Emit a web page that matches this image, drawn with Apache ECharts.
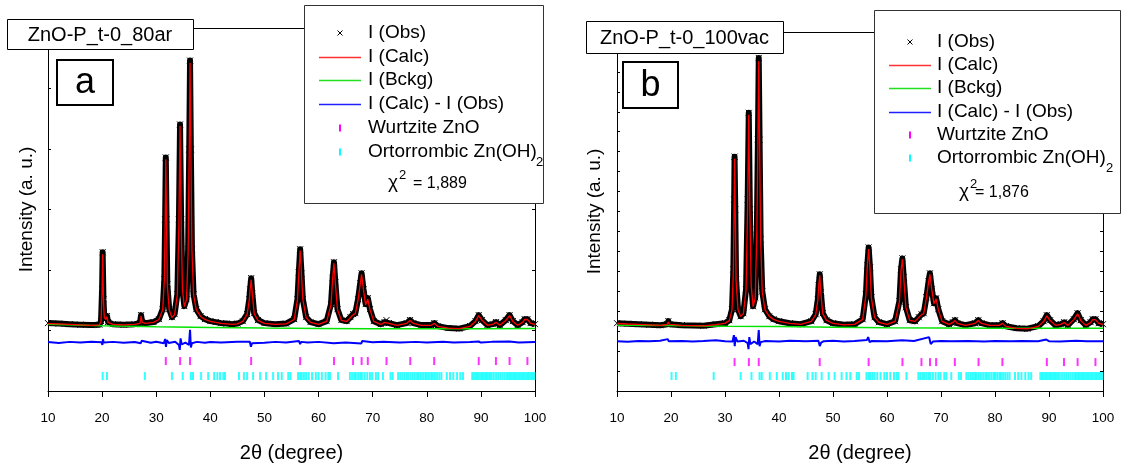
<!DOCTYPE html>
<html>
<head>
<meta charset="utf-8">
<script src="https://cdn.jsdelivr.net/npm/echarts@6/dist/echarts.min.js"></script>
<style>
  html, body { margin: 0; padding: 0; background: #fff; }
  #chart { width: 1128px; height: 468px; }
</style>
</head>
<body>
<div id="chart"></div>
<script>
// ---------- Rietveld refinement data: sample ZnO-P_t-0_80ar (panel a) ----------
const titleA = 'ZnO-P_t-0_80ar';
const chiA = '= 1,889';
const obsA = [[10,1122],[12,1114],[14,1105],[16,1097],[18,1089],[19.5,1097],[19.8,1155],[20.0,1683],[20.1,2294],[20.25,1518],[20.4,1221],[20.7,1188],[20.9,1238],[21.1,1139],[22,1105],[24,1097],[26,1105],[27.0,1122],[27.2,1254],[27.4,1139],[28,1122],[29.5,1139],[30.5,1188],[31.2,1353],[31.5,1848],[31.65,2838],[31.77,3861],[31.9,2838],[32.05,1766],[32.4,1353],[32.9,1221],[33.4,1271],[33.9,1600],[34.2,2838],[34.4,4406],[34.6,2838],[34.85,1683],[35.2,1403],[35.6,1518],[35.9,2343],[36.1,3993],[36.25,5462],[36.4,3993],[36.6,2343],[36.9,1600],[37.4,1353],[38.2,1238],[39,1188],[40,1155],[41,1139],[42,1122],[43,1114],[44,1105],[45,1114],[46,1155],[46.8,1271],[47.2,1518],[47.35,1680],[47.55,1865],[47.75,1620],[48.1,1287],[48.8,1172],[50,1122],[52,1105],[54,1114],[55.5,1188],[56.1,1518],[56.35,1960],[56.6,2343],[56.85,1940],[57.1,1518],[57.7,1221],[58.5,1139],[60,1105],[61.5,1155],[62.3,1436],[62.6,1870],[62.85,2129],[63.1,1800],[63.5,1353],[64.2,1172],[65.2,1155],[65.9,1221],[66.4,1271],[66.8,1287],[67.3,1518],[67.7,1780],[67.95,1947],[68.3,1683],[68.7,1436],[69.1,1535],[69.5,1353],[70.2,1155],[71.5,1105],[72.2,1139],[72.55,1172],[73,1122],[74.5,1089],[76.3,1122],[76.9,1172],[77.5,1122],[79,1089],[80.8,1089],[81.4,1122],[82,1073],[84,1040],[86,1031],[88,1073],[89,1155],[89.6,1254],[90.2,1172],[91.2,1089],[92.2,1105],[92.8,1139],[93.5,1089],[94.6,1172],[95.3,1254],[95.9,1155],[96.8,1089],[97.7,1139],[98.1,1188],[98.6,1188],[99.2,1122],[100,1105]];
const calcA = [[10,1115],[12,1108],[14,1100],[16,1092],[18,1086],[19.5,1094],[19.8,1150],[20.0,1660],[20.1,2260],[20.25,1500],[20.4,1215],[20.7,1180],[20.9,1230],[21.1,1135],[22,1100],[24,1094],[26,1100],[27.0,1118],[27.2,1240],[27.4,1135],[28,1118],[29.5,1135],[30.5,1182],[31.2,1345],[31.5,1830],[31.65,2810],[31.77,3830],[31.9,2820],[32.05,1750],[32.4,1345],[32.9,1215],[33.4,1265],[33.9,1590],[34.2,2810],[34.4,4380],[34.6,2820],[34.85,1670],[35.2,1395],[35.6,1510],[35.9,2320],[36.1,3960],[36.25,5420],[36.4,3970],[36.6,2330],[36.9,1590],[37.4,1345],[38.2,1232],[39,1183],[40,1150],[41,1135],[42,1118],[43,1110],[44,1102],[45,1110],[46,1150],[46.8,1265],[47.2,1505],[47.35,1670],[47.55,1840],[47.75,1610],[48.1,1280],[48.8,1168],[50,1118],[52,1102],[54,1110],[55.5,1182],[56.1,1505],[56.35,1940],[56.6,2320],[56.85,1925],[57.1,1505],[57.7,1215],[58.5,1135],[60,1100],[61.5,1150],[62.3,1425],[62.6,1850],[62.85,2110],[63.1,1785],[63.5,1345],[64.2,1168],[65.2,1150],[65.9,1215],[66.4,1262],[66.8,1280],[67.3,1505],[67.7,1765],[67.95,1930],[68.3,1670],[68.7,1425],[69.1,1520],[69.5,1345],[70.2,1150],[71.5,1100],[72.2,1135],[72.55,1165],[73,1118],[74.5,1086],[76.3,1118],[76.9,1165],[77.5,1118],[79,1086],[80.8,1086],[81.4,1118],[82,1070],[84,1038],[86,1030],[88,1070],[89,1150],[89.6,1245],[90.2,1168],[91.2,1086],[92.2,1100],[92.8,1135],[93.5,1086],[94.6,1165],[95.3,1245],[95.9,1150],[96.8,1086],[97.7,1135],[98.1,1182],[98.6,1182],[99.2,1118],[100,1100]];
const bkgA = [[10,1105],[20,1080],[30,1060],[40,1050],[50,1040],[60,1035],[70,1030],[80,1028],[90,1030],[100,1035]];
const diffA = [[10,808],[12,795],[14,812],[16,800],[18,815],[19.9,805],[20.05,760],[20.15,860],[20.3,800],[22,812],[24,798],[26,810],[27.15,790],[27.3,830],[27.5,806],[29,798],[30,815],[31.4,790],[31.65,860],[31.8,730],[31.95,840],[32.3,795],[33.5,815],[34.2,760],[34.35,680],[34.5,870],[34.7,770],[35.4,800],[36.05,760],[36.25,1010],[36.4,720],[36.6,790],[37.5,812],[39,798],[40,810],[42,800],[45,814],[47.3,815],[47.5,730],[47.7,790],[48,808],[50,796],[52,812],[54,800],[56.4,825],[56.6,775],[56.8,812],[58,800],[60,812],[62.8,790],[62.95,822],[65,802],[67.9,785],[68.05,825],[70,806],[72,814],[75,800],[78,812],[80,802],[83,814],[85,800],[88,810],[89.6,818],[90,800],[92,812],[95.3,818],[97,800],[100,808]];

// ---------- sample ZnO-P_t-0_100vac (panel b) ----------
const titleB = 'ZnO-P_t-0_100vac';
const chiB = '= 1,876';
const obsB = [[10,3400],[12,3375],[14,3350],[16,3325],[18,3300],[19.3,3350],[19.5,3500],[19.7,3350],[22,3300],[26,3275],[28.3,3350],[30,3400],[30.8,3550],[31.3,4100],[31.55,6100],[31.7,9600],[31.77,11750],[31.9,9100],[32.05,5600],[32.4,4100],[32.9,3750],[33.4,3900],[33.9,5100],[34.2,9600],[34.4,13950],[34.6,9100],[34.85,5350],[35.2,4250],[35.6,4700],[35.9,8100],[36.1,12600],[36.25,16700],[36.4,12600],[36.6,7600],[36.9,5000],[37.4,4100],[38.2,3750],[39,3600],[40,3500],[42,3400],[44,3350],[46,3500],[46.8,3850],[47.2,4600],[47.35,5300],[47.55,5850],[47.75,4950],[48.1,3900],[48.8,3550],[50,3400],[52,3325],[54,3350],[55.5,3600],[56.1,4850],[56.35,6300],[56.6,7200],[56.85,6200],[57.1,4700],[57.7,3700],[58.5,3450],[60,3350],[61.5,3500],[62.3,4500],[62.6,6100],[62.85,6650],[63.1,5700],[63.5,4200],[64.2,3550],[65.2,3500],[65.9,3700],[66.4,3850],[66.8,3900],[67.3,4700],[67.7,5500],[67.95,5900],[68.3,5100],[68.7,4400],[69.1,4650],[69.5,4100],[70.2,3500],[71.5,3350],[72.2,3450],[72.6,3550],[73,3400],[74.5,3300],[76.3,3400],[76.9,3550],[77.5,3400],[79,3300],[80.8,3300],[81.4,3400],[82,3250],[84,3150],[86,3125],[88,3250],[89,3500],[89.6,3800],[90.2,3550],[91.2,3300],[92.2,3350],[92.8,3450],[93.5,3300],[94.6,3600],[95.3,3900],[95.9,3550],[96.8,3300],[97.7,3450],[98.1,3600],[98.6,3600],[99.2,3400],[100,3350]];
const calcB = [[10,3385],[12,3360],[14,3340],[16,3315],[18,3290],[19.3,3335],[19.5,3460],[19.7,3340],[22,3290],[26,3265],[28.3,3330],[30,3390],[30.8,3530],[31.3,4070],[31.55,6050],[31.7,9500],[31.77,11650],[31.9,9050],[32.05,5560],[32.4,4080],[32.9,3740],[33.4,3880],[33.9,5060],[34.2,9500],[34.4,13850],[34.6,9050],[34.85,5300],[35.2,4230],[35.6,4670],[35.9,8050],[36.1,12500],[36.25,16550],[36.4,12550],[36.6,7550],[36.9,4970],[37.4,4080],[38.2,3740],[39,3590],[40,3490],[42,3390],[44,3340],[46,3490],[46.8,3830],[47.2,4570],[47.35,5260],[47.55,5800],[47.75,4920],[48.1,3880],[48.8,3540],[50,3390],[52,3315],[54,3340],[55.5,3590],[56.1,4820],[56.35,6250],[56.6,7120],[56.85,6160],[57.1,4680],[57.7,3690],[58.5,3440],[60,3340],[61.5,3490],[62.3,4470],[62.6,6050],[62.85,6600],[63.1,5660],[63.5,4180],[64.2,3540],[65.2,3490],[65.9,3690],[66.4,3830],[66.8,3880],[67.3,4670],[67.7,5460],[67.95,5850],[68.3,5070],[68.7,4380],[69.1,4620],[69.5,4080],[70.2,3490],[71.5,3340],[72.2,3440],[72.6,3530],[73,3390],[74.5,3290],[76.3,3390],[76.9,3530],[77.5,3390],[79,3290],[80.8,3290],[81.4,3390],[82,3240],[84,3145],[86,3120],[88,3240],[89,3480],[89.6,3770],[90.2,3530],[91.2,3290],[92.2,3340],[92.8,3430],[93.5,3290],[94.6,3580],[95.3,3870],[95.9,3530],[96.8,3290],[97.7,3430],[98.1,3580],[98.6,3580],[99.2,3390],[100,3340]];
const bkgB = [[10,3300],[20,3280],[30,3250],[40,3230],[50,3200],[60,3170],[70,3160],[80,3150],[90,3150],[100,3150]];
const diffB = [[10,2500],[12,2470],[14,2510],[16,2490],[18,2515],[19.4,2600],[19.6,2490],[22,2510],[24,2485],[26,2505],[28.3,2540],[30,2495],[31.4,2480],[31.65,2800],[31.8,2250],[31.95,2700],[32.3,2480],[33.5,2520],[34.2,2400],[34.35,2100],[34.5,2700],[34.7,2350],[35.4,2480],[36.05,2350],[36.25,3050],[36.4,2250],[36.6,2450],[37.5,2510],[40,2480],[42,2515],[45,2495],[47.3,2520],[47.55,2250],[47.8,2420],[48.3,2500],[50,2515],[52,2485],[54,2505],[56.3,2560],[56.5,2700],[56.8,2450],[57.2,2510],[60,2490],[62.8,2540],[63,2460],[65,2505],[67.8,2700],[68.1,2350],[68.5,2480],[70,2510],[72,2490],[75,2510],[78,2485],[80,2505],[83,2490],[85,2510],[88,2490],[89.5,2580],[90,2500],[92,2485],[95,2520],[97,2495],[100,2500]];

// ---------- reflection positions (2θ) ----------
const wurtziteZnO = [31.77, 34.42, 36.25, 47.54, 56.6, 62.86, 66.38, 67.96, 69.1, 72.56, 76.95, 81.37, 89.6, 92.78, 95.3, 98.6];
const ortoZnOH2 = [20.1, 20.9, 27.9, 32.9, 34.9, 36.4, 36.8, 38.3, 39.6, 40.7, 41.3, 41.8, 42.4, 42.7, 45.3, 46.2, 46.8, 47.9, 49.2, 50.3, 51.6, 52.5, 53.2, 54.4, 54.8, 56.2, 56.6, 56.9, 57.3, 57.7, 58.2, 58.8, 59.5, 60.0, 60.6, 61.3, 61.8, 62.1, 63.6, 65.8, 66.2, 66.6, 66.9, 67.3, 67.7, 68.0, 68.5, 69.0, 69.5, 69.9, 70.6, 71.0, 71.9, 73.3, 73.7, 74.7, 75.1, 75.5, 75.9, 76.3, 76.6, 77.0, 77.4, 77.8, 78.2, 78.5, 78.9, 79.3, 79.7, 80.0, 80.4, 80.8, 81.1, 81.5, 81.9, 82.3, 82.7, 83.7, 84.3, 84.9, 85.6, 86.2, 86.7, 88.4, 88.7, 89.0, 89.3, 89.6, 89.9, 90.2, 90.5, 90.8, 91.1, 91.4, 91.7, 92.0, 92.4, 92.8, 93.2, 93.6, 94.0, 94.4, 94.8, 95.1, 95.4, 95.7, 96.0, 96.3, 96.6, 96.9, 97.2, 97.5, 97.8, 98.1, 98.4, 98.7, 99.0, 99.3, 99.6, 99.9];
// intensity level at which each phase's reflection markers are drawn
const tickLevelA = { wurtzite: 495, hydroxide: 247 };
const tickLevelB = { wurtzite: 1450, hydroxide: 750 };

const xTicks = [10, 20, 30, 40, 50, 60, 70, 80, 90, 100];
const legendNames = ['I (Obs)', 'I (Calc)', 'I (Bckg)', 'I (Calc) - I (Obs)', 'Wurtzite ZnO', 'Ortorrombic Zn(OH)'];

// ---------- styling ----------
const FONT = '"Liberation Sans", Arial, Helvetica, sans-serif';
const C = { obs: '#000000', calc: '#ff0000', bkg: '#00e400', diff: '#0000ff', wurtz: '#ff00ff', hydr: '#00ffff' };
const CROSS = 'path://M0,0L10,10M0,10L10,0';

function axesFor(g, ymax, nameGap) {
  const black = { color: '#000', width: 1 };
  return {
    x: [
      { gridIndex: g, type: 'value', min: xTicks[0], max: xTicks[xTicks.length - 1], interval: xTicks[1] - xTicks[0],
        position: 'bottom', axisLine: { show: true, onZero: false, lineStyle: black },
        axisTick: { show: true, inside: false, length: 6, lineStyle: black },
        axisLabel: { color: '#000', fontSize: 13.5, fontFamily: FONT, margin: 20 },
        splitLine: { show: false },
        name: '2θ (degree)', nameLocation: 'middle', nameGap: 52,
        nameTextStyle: { color: '#000', fontSize: 20, fontFamily: FONT } },
      { gridIndex: g, type: 'value', min: 10, max: 100, position: 'top',
        axisLine: { show: true, onZero: false, lineStyle: black },
        axisTick: { show: false }, axisLabel: { show: false }, splitLine: { show: false } }
    ],
    y: [
      { gridIndex: g, type: 'value', min: 0, max: ymax, interval: 1000, position: 'left',
        axisLine: { show: true, onZero: false, lineStyle: black },
        axisTick: { show: true, inside: true, length: 3, lineStyle: black },
        axisLabel: { show: false }, splitLine: { show: false },
        name: 'Intensity (a. u.)', nameLocation: 'middle', nameGap: nameGap, nameRotate: 90,
        nameTextStyle: { color: '#000', fontSize: 19, fontFamily: FONT } },
      { gridIndex: g, type: 'value', min: 0, max: ymax, interval: 1000, position: 'right',
        axisLine: { show: true, onZero: false, lineStyle: black },
        axisTick: { show: true, inside: true, length: 3, lineStyle: black },
        axisLabel: { show: false }, splitLine: { show: false } }
    ]
  };
}

function seriesFor(xi, yi, obs, calc, bkg, diff, lvl) {
  const base = { xAxisIndex: xi, yAxisIndex: yi, animation: false, silent: true };
  return [
    Object.assign({}, base, { type: 'line', data: obs, symbol: CROSS, symbolSize: 6, showSymbol: true, showAllSymbol: true,
      lineStyle: { color: C.obs, width: 6, join: 'round' },
      itemStyle: { color: C.obs, borderColor: C.obs, borderWidth: 1 }, z: 2 }),
    Object.assign({}, base, { type: 'line', data: bkg, showSymbol: false, lineStyle: { color: C.bkg, width: 1.5 }, z: 3 }),
    Object.assign({}, base, { type: 'line', data: calc, showSymbol: false, lineStyle: { color: C.calc, width: 1.3 }, z: 4 }),
    Object.assign({}, base, { type: 'line', data: diff, showSymbol: false, lineStyle: { color: C.diff, width: 2 }, z: 4 }),
    Object.assign({}, base, { type: 'scatter', data: wurtziteZnO.map(t => [t, lvl.wurtzite]), symbol: 'rect', symbolSize: [2, 8],
      itemStyle: { color: C.wurtz }, z: 5 }),
    Object.assign({}, base, { type: 'scatter', data: ortoZnOH2.map(t => [t, lvl.hydroxide]), symbol: 'rect', symbolSize: [2, 8],
      itemStyle: { color: C.hydr }, z: 5 })
  ];
}

function textEl(text, x, y, size, extra) {
  return Object.assign({ type: 'text', z: 101, style: { text: text, x: x, y: y, fill: '#000',
    font: size + 'px ' + FONT, align: 'left', verticalAlign: 'middle' } }, extra || {});
}

// legend box with sample lines, phase markers and goodness of fit
function legendBox(L, chiText) {
  const els = [];
  els.push({ type: 'rect', z: 100, shape: { x: L.x + 0.5, y: L.y + 0.5, width: L.w, height: L.h },
    style: { fill: '#fff', stroke: '#333', lineWidth: 1 } });
  const sx = L.symX, r = L.rows;
  els.push({ type: 'polyline', z: 101, shape: { points: [[sx - 2.5, r[0] - 2.5], [sx + 2.5, r[0] + 2.5]] }, style: { stroke: C.obs, lineWidth: 1 } });
  els.push({ type: 'polyline', z: 101, shape: { points: [[sx - 2.5, r[0] + 2.5], [sx + 2.5, r[0] - 2.5]] }, style: { stroke: C.obs, lineWidth: 1 } });
  ['#ff3030', '#20e020', '#2020ff'].forEach((c, i) => {
    els.push({ type: 'line', z: 101, shape: { x1: L.lx0, y1: r[i + 1] + 0.5, x2: L.lx1, y2: r[i + 1] + 0.5 }, style: { stroke: c, lineWidth: 1.4 } });
  });
  els.push({ type: 'rect', z: 101, shape: { x: sx - 1, y: r[4] - 3.5, width: 2, height: 7 }, style: { fill: C.wurtz } });
  els.push({ type: 'rect', z: 101, shape: { x: sx - 1, y: r[5] - 3.5, width: 2, height: 7 }, style: { fill: C.hydr } });
  legendNames.forEach((n, i) => els.push(textEl(n, L.tx, r[i], L.fs)));
  // subscript of Zn(OH)2
  els.push(textEl('2', L.subX, r[5] + 10, 13));
  // chi-squared
  els.push(textEl('χ', L.chiX, L.chiY, 19));
  els.push(textEl('2', L.chiX + 11, L.chiY - 8, 13));
  els.push(textEl(chiText, L.chiX + L.chiGap, L.chiY + 1, 16));
  return els;
}

function titleBox(x, y, w, h, text) {
  const t = textEl(text, x + w / 2, y + h / 2 + 1, 20);
  t.style.align = 'center';
  return [
    { type: 'rect', z: 100, shape: { x: x + 0.5, y: y + 0.5, width: w, height: h }, style: { fill: '#fff', stroke: '#000', lineWidth: 1 } },
    t
  ];
}

function letterBox(x, y, w, h, letter) {
  const t = textEl(letter, x + w / 2, y + h / 2 + 1, 36);
  t.style.align = 'center';
  return [
    { type: 'rect', z: 100, shape: { x: x, y: y, width: w, height: h }, style: { fill: '#fff', stroke: '#000', lineWidth: 2 } },
    t
  ];
}

const axA = axesFor(0, 6000, 12);
const axB = axesFor(1, 18000, 13);

const graphics = []
  .concat(legendBox({ x: 304, y: 5, w: 239, h: 198, symX: 340, lx0: 319, lx1: 361, tx: 368, fs: 19, subX: 536,
    rows: [33, 57, 80, 104, 128, 152], chiX: 388, chiY: 183, chiGap: 25 }, chiA))
  .concat(legendBox({ x: 874, y: 10, w: 246, h: 203, symX: 910, lx0: 889, lx1: 931, tx: 937, fs: 19, subX: 1106,
    rows: [42, 65, 88, 112, 135, 158], chiX: 959, chiY: 192, chiGap: 16 }, chiB))
  .concat(titleBox(7, 19, 186, 30, titleA))
  .concat(titleBox(586, 21, 197, 32, titleB))
  .concat(letterBox(57, 60, 56, 45, 'a'))
  .concat(letterBox(623, 62, 55, 46, 'b'));

const option = {
  backgroundColor: '#fff',
  animation: false,
  textStyle: { fontFamily: FONT },
  grid: [
    { left: 48, top: 28, width: 487, height: 364, show: false },
    { left: 617, top: 32, width: 486, height: 360, show: false }
  ],
  xAxis: axA.x.concat(axB.x),
  yAxis: axA.y.concat(axB.y),
  series: seriesFor(0, 0, obsA, calcA, bkgA, diffA, tickLevelA)
    .concat(seriesFor(2, 2, obsB, calcB, bkgB, diffB, tickLevelB)),
  graphic: { elements: graphics }
};

const chart = echarts.init(document.getElementById('chart'), null, { renderer: 'canvas' });
chart.setOption(option);
</script>
</body>
</html>
